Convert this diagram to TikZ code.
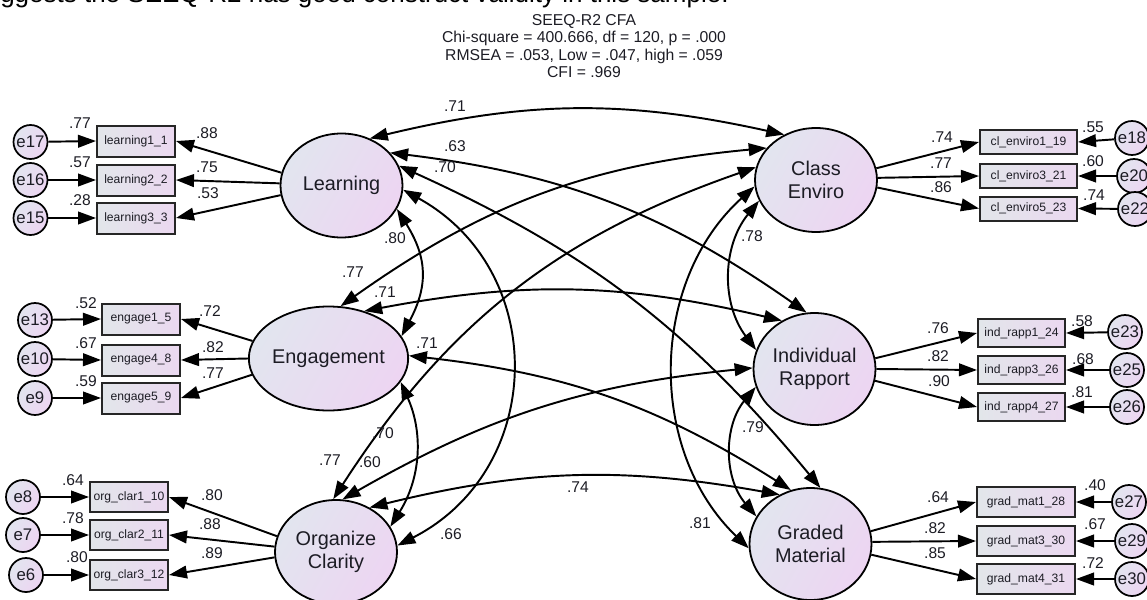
\documentclass[tikz,border=0pt]{standalone}
\usepackage{fontspec}
\setmainfont{Liberation Sans}
\usetikzlibrary{arrows.meta,shapes.geometric}
\definecolor{shA}{HTML}{E2E5EF}
\definecolor{shB}{HTML}{EDD5F2}
\definecolor{bxA}{HTML}{E2E6EA}
\definecolor{bxB}{HTML}{EBD8F0}
\definecolor{ink}{HTML}{1C1C24}
\begin{document}
\begin{tikzpicture}[x=0.75pt,y=0.75pt,
  lat/.style={ellipse, draw=black, line width=1.35pt, minimum width={122*0.75pt},
    minimum height={104*0.75pt}, inner sep=0pt, align=center, text=ink,
    font=\fontsize{14.9}{17.5}\selectfont, left color=shA, right color=shB, shading angle=60},
  tall/.style={minimum height={112*0.75pt}},
  err/.style={circle, draw=black, line width=1.3pt, minimum size={34*0.75pt}, inner sep=0pt,
    text=ink, font=\fontsize{12.6}{14}\selectfont, left color=shA, right color=shB, shading angle=60},
  obs/.style={rectangle, draw=black!85, line width=1.5pt, inner sep=0pt, text=ink,
    font=\fontsize{9.1}{10}\selectfont, left color=bxA, right color=bxB},
  num/.style={font=\fontsize{11.7}{13}\selectfont, inner sep=0pt, text=ink},
  arr/.style={-{Triangle[length=13.5pt,width=9.5pt]}, line width=1.45pt},
  cor/.style={{Triangle[length=13.5pt,width=9.5pt]}-{Triangle[length=13.5pt,width=9.5pt]}, line width=1.45pt}
]
\useasboundingbox (0,0) rectangle (1147,-600);
\clip (0,0) rectangle (1147,-600);

% cut-off top line and title
\node[anchor=base west, inner sep=0pt, font=\fontsize{19.5}{20}\selectfont] (cut) at (0,-2)
  {ggests the SEEQ-R2 has good construct validity in this sample.};
\node[align=center, inner sep=0pt, font=\fontsize{11.8}{13}\selectfont, text=ink] (title) at (584,-46)
  {SEEQ-R2 CFA\\Chi-square = 400.666, df = 120, p = .000\\RMSEA = .053, Low = .047, high = .059\\CFI = .969};

% latent variables
\node[lat] (L) at (341.5,-185.5) {Learning};
\node[lat] (E) at (328.5,-358.5) {Engagement};
\node[lat] (O) at (336,-552) {Organize\\Clarity};
\node[lat] (CE) at (816,-180) {Class\\Enviro};
\node[lat,tall] (IR) at (814.5,-369) {Individual\\Rapport};
\node[lat,tall] (GM) at (810.5,-544) {Graded\\Material};

% observed boxes
\begin{scope}[every node/.append style={obs, minimum width={78*0.75pt}, minimum height={31*0.75pt}}]
\node (l1) at (136,-141) {learning1\_1};
\node (l2) at (136,-180) {learning2\_2};
\node (l3) at (136,-218) {learning3\_3};
\node (g1) at (141,-319) {engage1\_5};
\node (g2) at (141,-360) {engage4\_8};
\node (g3) at (141,-398) {engage5\_9};
\end{scope}
\begin{scope}[every node/.append style={obs, minimum width={78*0.75pt}, minimum height={30*0.75pt}}]
\node (o1) at (129,-497) {org\_clar1\_10};
\node (o2) at (129,-535) {org\_clar2\_11};
\node (o3) at (129,-575) {org\_clar3\_12};
\end{scope}
\begin{scope}[every node/.append style={obs, minimum width={97*0.75pt}, minimum height={24*0.75pt}}]
\node (c1) at (1028.5,-142) {cl\_enviro1\_19};
\node (c2) at (1028.5,-176) {cl\_enviro3\_21};
\node (c3) at (1028.5,-208.5) {cl\_enviro5\_23};
\end{scope}
\begin{scope}[every node/.append style={obs, minimum width={87*0.75pt}, minimum height={28*0.75pt}}]
\node (r1) at (1021.5,-333) {ind\_rapp1\_24};
\node (r2) at (1021.5,-370) {ind\_rapp3\_26};
\node (r3) at (1021.5,-407) {ind\_rapp4\_27};
\end{scope}
\begin{scope}[every node/.append style={obs, minimum width={98*0.75pt}, minimum height={30*0.75pt}}]
\node (m1) at (1026,-502) {grad\_mat1\_28};
\node (m2) at (1026,-541) {grad\_mat3\_30};
\node (m3) at (1026,-579) {grad\_mat4\_31};
\end{scope}

% error terms
\node[err] (e17) at (30.5,-142) {e17};
\node[err] (e16) at (30.5,-180) {e16};
\node[err] (e15) at (30.5,-218) {e15};
\node[err] (e13) at (35,-320) {e13};
\node[err] (e10) at (35,-359) {e10};
\node[err] (e9) at (35,-398) {e9};
\node[err] (e8) at (23,-497) {e8};
\node[err] (e7) at (23,-535) {e7};
\node[err] (e6) at (26,-575) {e6};
\node[err] (e18) at (1132,-138) {e18};
\node[err] (e20) at (1134,-176) {e20};
\node[err] (e22) at (1135,-209) {e22};
\node[err] (e23) at (1125,-332) {e23};
\node[err] (e25) at (1127,-370) {e25};
\node[err] (e26) at (1127,-407) {e26};
\node[err] (e27) at (1129,-502) {e27};
\node[err] (e29) at (1132,-541) {e29};
\node[err] (e30) at (1132,-579) {e30};

% error arrows
\draw[arr] (e17) -- (l1.west);
\draw[arr] (e16) -- (l2.west);
\draw[arr] (e15) -- (l3.west);
\draw[arr] (e13) -- (g1.west);
\draw[arr] (e10) -- (g2.west);
\draw[arr] (e9) -- (g3.west);
\draw[arr] (e8) -- (o1.west);
\draw[arr] (e7) -- (o2.west);
\draw[arr] (e6) -- (o3.west);
\draw[arr] (e18) -- (c1.east);
\draw[arr] (e20) -- (c2.east);
\draw[arr] (e22) -- (c3.east);
\draw[arr] (e23) -- (r1.east);
\draw[arr] (e25) -- (r2.east);
\draw[arr] (e26) -- (r3.east);
\draw[arr] (e27) -- (m1.east);
\draw[arr] (e29) -- (m2.east);
\draw[arr] (e30) -- (m3.east);

% loadings
\draw[arr] (L.168) -- (l1.east);
\draw[arr] (L.178) -- (l2.east);
\draw[arr] (L.189) -- (l3.east);
\draw[arr] (E.167) -- (g1.east);
\draw[arr] (E.180) -- (g2.east);
\draw[arr] (E.192) -- (g3.east);
\draw[arr] (O.165) -- (o1.east);
\draw[arr] (O.175) -- (o2.east);
\draw[arr] (O.185) -- (o3.east);
\draw[arr] (CE.11) -- (c1.west);
\draw[arr] (CE.2) -- (c2.west);
\draw[arr] (CE.-7) -- (c3.west);
\draw[arr] (IR.10) -- (r1.west);
\draw[arr] (IR.0) -- (r2.west);
\draw[arr] (IR.-11) -- (r3.west);
\draw[arr] (GM.12) -- (m1.west);
\draw[arr] (GM.2) -- (m2.west);
\draw[arr] (GM.-10) -- (m3.west);

% correlations
\draw[cor] (L.59) to[bend left=13] (CE.125);
\draw[cor] (L.34) to[bend left=14] (IR.98);
\draw[cor] (L.19) to[bend left=13] (GM.80);
\draw[cor] (L.-4) to[bend left=62, looseness=1.2] (O.6);
\draw[cor] (L.-23) to[bend left=30, looseness=1.15] (E.17);
\draw[cor] (E.77) to[bend left=15] (CE.147);
\draw[cor] (E.53) to[bend left=12] (IR.124);
\draw[cor] (E.2) to[bend left=13] (GM.110);
\draw[cor] (E.-18) to[bend left=28] (O.25);
\draw[cor] (O.93) to[bend left=19] (CE.168);
\draw[cor] (O.83) to[bend left=12] (IR.179);
\draw[cor] (O.53) to[bend left=12] (GM.122);
\draw[cor] (CE.200) to[bend right=38] (IR.162);
\draw[cor] (IR.197) to[bend right=40] (GM.153);
\draw[cor] (CE.186) to[bend right=47] (GM.184);

% error variance labels
\node[num] (n1) at (80,-123) {.77};
\node[num] (n2) at (80,-162) {.57};
\node[num] (n3) at (80,-200) {.28};
\node[num] (n4) at (86,-303) {.52};
\node[num] (n5) at (86,-343) {.67};
\node[num] (n6) at (86,-381) {.59};
\node[num] (n7) at (73,-480) {.64};
\node[num] (n8) at (73,-518) {.78};
\node[num] (n9) at (77,-557) {.80};
\node[num] (n10) at (1093,-127) {.55};
\node[num] (n11) at (1093,-161) {.60};
\node[num] (n12) at (1094,-195) {.74};
\node[num] (n13) at (1082,-321) {.58};
\node[num] (n14) at (1083,-359) {.68};
\node[num] (n15) at (1082,-392) {.81};
\node[num] (n16) at (1095,-485) {.40};
\node[num] (n17) at (1095,-524) {.67};
\node[num] (n18) at (1093,-563) {.72};
% loading labels
\node[num] (k1) at (207,-133) {.88};
\node[num] (k2) at (207,-167) {.75};
\node[num] (k3) at (208,-193) {.53};
\node[num] (k4) at (210,-311) {.72};
\node[num] (k5) at (213,-347) {.82};
\node[num] (k6) at (213,-373) {.77};
\node[num] (k7) at (212,-495) {.80};
\node[num] (k8) at (210,-524) {.88};
\node[num] (k9) at (212,-553) {.89};
\node[num] (k10) at (942,-137) {.74};
\node[num] (k11) at (941,-163) {.77};
\node[num] (k12) at (941,-187) {.86};
\node[num] (k13) at (938,-328) {.76};
\node[num] (k14) at (938,-356) {.82};
\node[num] (k15) at (939,-381) {.90};
\node[num] (k16) at (938,-497) {.64};
\node[num] (k17) at (935,-528) {.82};
\node[num] (k18) at (935,-553) {.85};
% correlation labels
\node[num] (r71a) at (455,-106) {.71};
\node[num] (r63) at (455,-146) {.63};
\node[num] (r70a) at (445,-167) {.70};
\node[num] (r80) at (395,-238) {.80};
\node[num] (r77a) at (353,-272) {.77};
\node[num] (r71b) at (385,-292) {.71};
\node[num] (r71c) at (427,-343) {.71};
\node[num] (r70b) at (383,-433) {.70};
\node[num] (r77b) at (330,-460) {.77};
\node[num] (r60) at (370,-462) {.60};
\node[num] (r74) at (578,-487) {.74};
\node[num] (r66) at (451,-534) {.66};
\node[num] (r78) at (752,-236) {.78};
\node[num] (r79) at (753,-427) {.79};
\node[num] (r81) at (700,-523) {.81};
\end{tikzpicture}
\end{document}
